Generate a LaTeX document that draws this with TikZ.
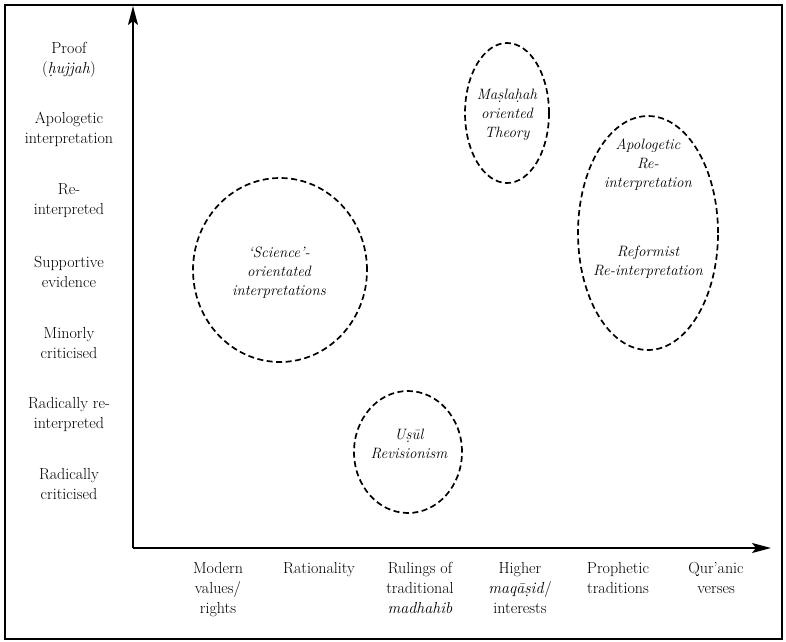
\documentclass[tikz,border=0pt]{standalone}
\usepackage{tikz}
\usetikzlibrary{arrows.meta,shapes.geometric}

\begin{document}
\begin{tikzpicture}[
    x=1pt, y=-1pt,
    font=\fontsize{16}{20}\selectfont,
    frame/.style={draw=black, line width=1.6pt},
    axis/.style={-{Stealth[length=19pt,width=10pt,inset=4pt]}, line width=1.9pt},
    ylbl/.style={align=center, inner sep=1pt},
    xlbl/.style={align=center, anchor=north, inner sep=1pt},
    zone/.style={ellipse, draw=black, line width=1.7pt,
                 dash pattern=on 6pt off 3.5pt, inner sep=0pt},
    zlbl/.style={align=center, inner sep=1pt,
                 font=\fontsize{15}{19}\selectfont\itshape},
  ]
  \useasboundingbox (0,0) rectangle (786,641);
  \draw[frame] (5,5) rectangle (782,639);

  % axes
  \coordinate (origin) at (133,548);
  \coordinate (ytip) at (133,6);
  \coordinate (xtip) at (771,548);
  \draw[axis] (origin) -- (ytip);
  \draw[axis] (origin) -- (xtip);

  % vertical scale
  \node[ylbl] (proof) at (69,60) {Proof\\(\textit{ḥujjah})};
  \node[ylbl] (apolo) at (69,129) {Apologetic\\interpretation};
  \node[ylbl] (reint) at (69,201) {Re-\\interpreted};
  \node[ylbl] (supp) at (69,272) {Supportive\\evidence};
  \node[ylbl] (minor) at (69,343) {Minorly\\criticised};
  \node[ylbl] (radre) at (69,414) {Radically re-\\interpreted};
  \node[ylbl] (radcr) at (69,484) {Radically\\criticised};

  % horizontal scale
  \node[xlbl] (modern) at (218,561) {Modern\\values/\\rights};
  \node[xlbl] (ratio) at (319,561) {Rationality};
  \node[xlbl] (rulings) at (420,561) {Rulings of\\traditional\\\textit{madhahib}};
  \node[xlbl] (higher) at (520,561) {Higher\\\textit{maqāṣid}/\\interests};
  \node[xlbl] (prophet) at (618,561) {Prophetic\\traditions};
  \node[xlbl] (quran) at (716,561) {Qur’anic\\verses};

  % zones
  \node[zone, minimum width=84pt, minimum height=140pt] (maslahah) at (507,113) {};
  \node[zlbl] (maslahahtxt) at (507,115) {Maṣlaḥah\\oriented\\Theory};
  \node[zone, minimum width=140pt, minimum height=234pt] (reform) at (648,233) {};
  \node[zlbl] (apolotxt) at (648,165) {Apologetic\\Re-\\interpretation};
  \node[zlbl] (reformtxt) at (648,262) {Reformist\\Re-interpretation};
  \node[zone, minimum width=174pt, minimum height=184pt] (science) at (280,270) {};
  \node[zlbl] (sciencetxt) at (279,273) {‘Science’-\\orientated\\interpretations};
  \node[zone, minimum width=108pt, minimum height=122pt] (usul) at (408,452) {};
  \node[zlbl] (usultxt) at (409,444) {Uṣūl\\Revisionism};
\end{tikzpicture}
\end{document}
